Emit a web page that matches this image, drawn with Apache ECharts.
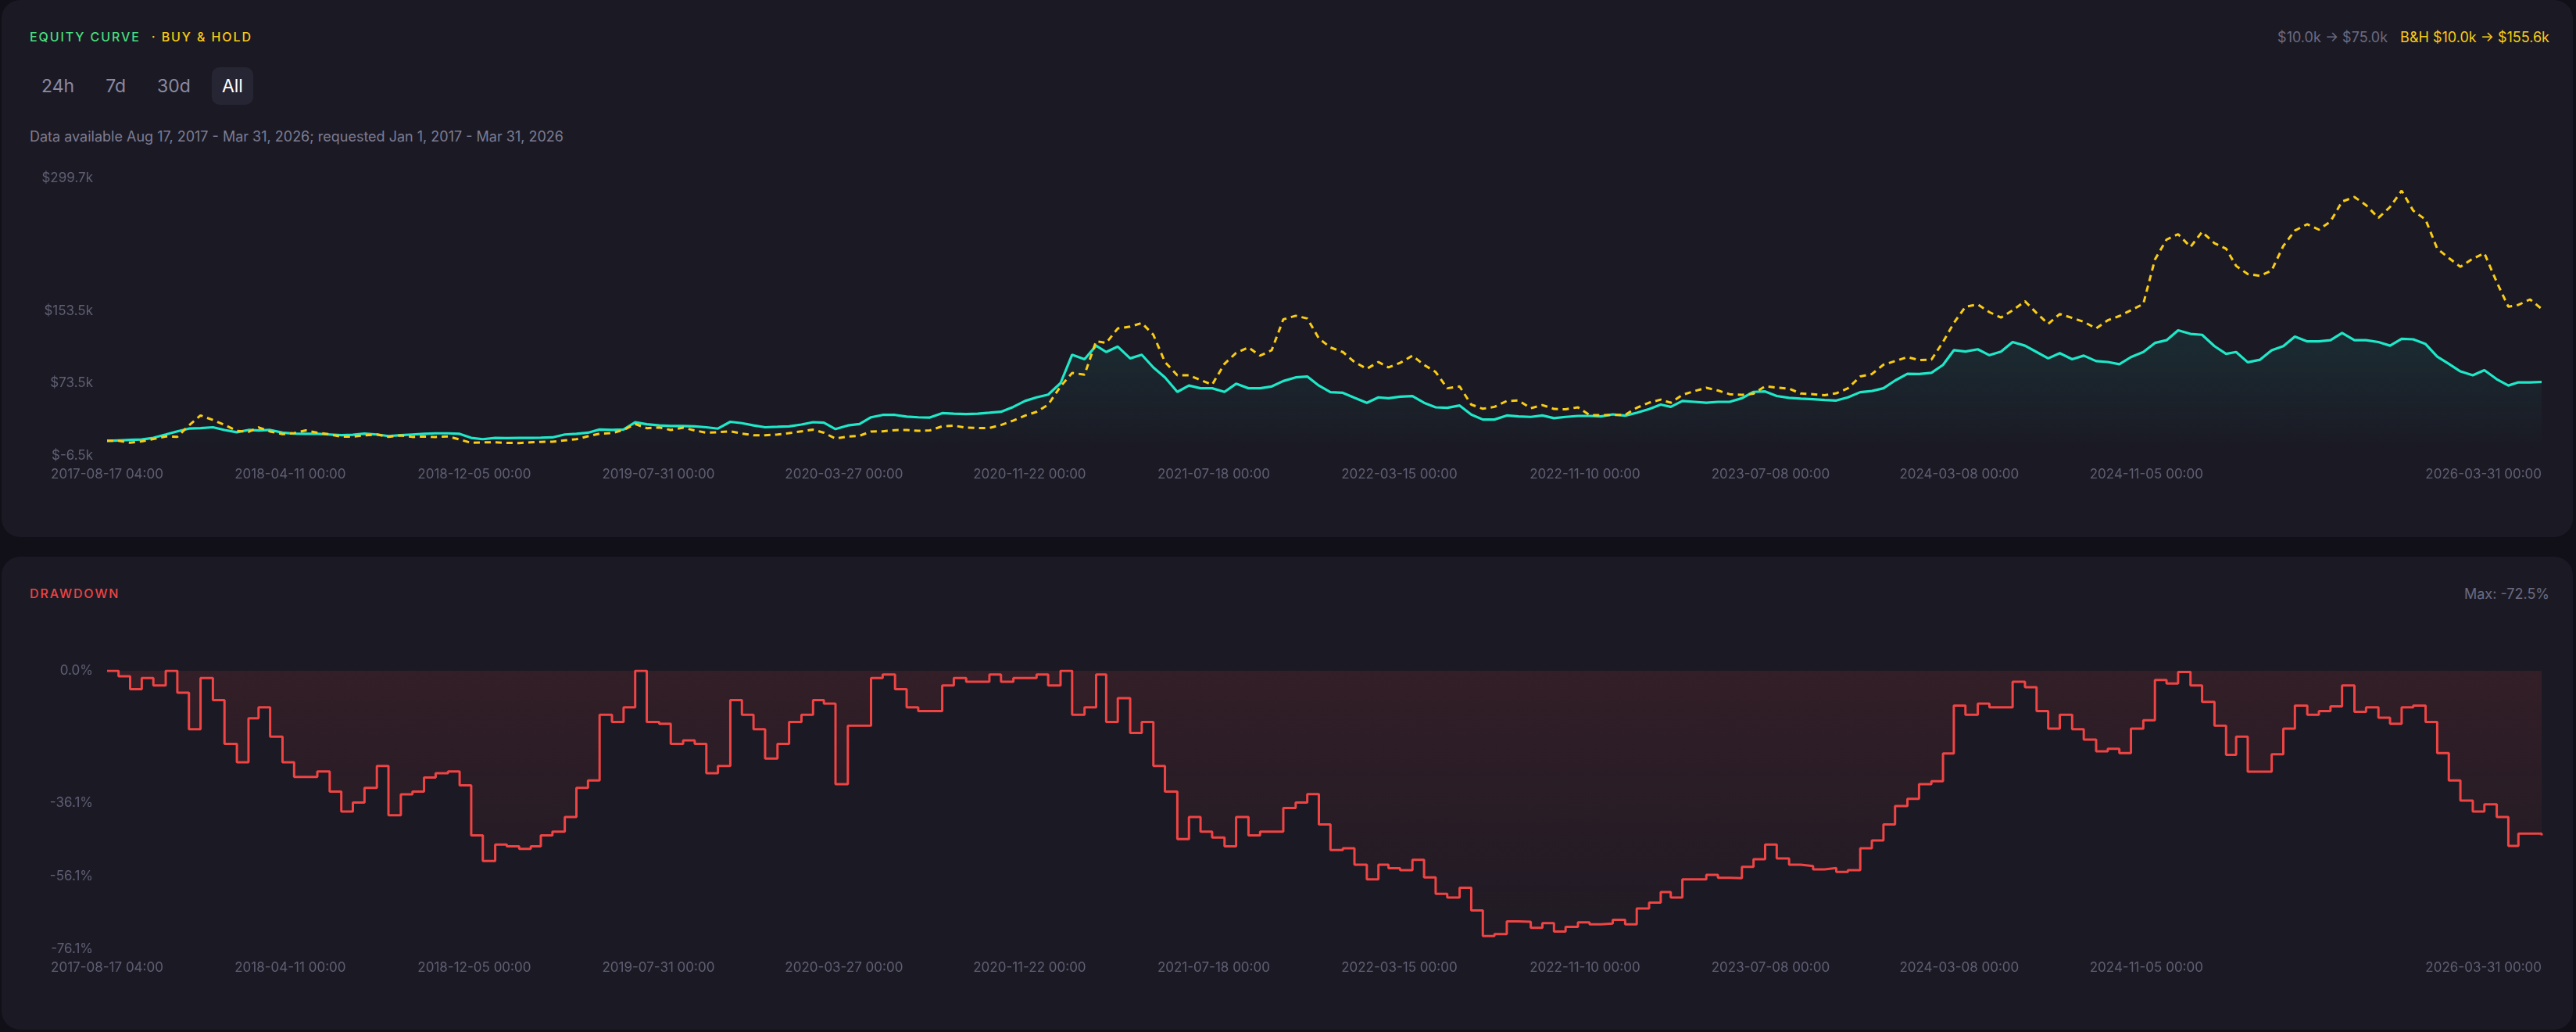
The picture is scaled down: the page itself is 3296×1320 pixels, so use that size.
<!DOCTYPE html>
<html lang="en">
<head>
<meta charset="UTF-8">
<title>Equity curve</title>
<script src="https://cdn.jsdelivr.net/npm/echarts@6/dist/echarts.min.js"></script>
<style>
  html, body { margin: 0; padding: 0; background: #111018; }
  body { width: 3296px; height: 1320px; position: relative; overflow: hidden;
         font-family: Inter, "Noto Sans", sans-serif; }
  .card { position: absolute; left: 2px; width: 3290px; background: #1b1a24; border-radius: 24px; }
  .tag { position: absolute; left: 36px; font-size: 16px; line-height: 20px; letter-spacing: 1.9px; font-weight: 500; }
  .right { position: absolute; right: 30px; font-size: 18px; line-height: 22px; color: #6b6a82; }
  .btns { position: absolute; left: 38px; top: 86px; display: flex; }
  .btns span { height: 48px; line-height: 48px; padding: 0 13px; margin-right: 14px; font-size: 23px;
               color: #8b8aa3; border-radius: 10px; }
  .btns span.on { background: #262533; color: #ffffff; }
  .sub { position: absolute; left: 36px; top: 164px; font-size: 18px; line-height: 22px; color: #7d7c93; }
  #chart { position: absolute; left: 0; top: 0; width: 3296px; height: 1320px; }
</style>
</head>
<body>
  <div class="card" style="top:0;height:687px;">
    <div class="tag" style="top:37px;"><span style="color:#4ade80">EQUITY CURVE</span><span style="color:#facc15;margin-left:14px">· BUY &amp; HOLD</span></div>
    <div class="right" style="top:37px;"><span>$10.0k → $75.0k</span><span style="color:#facc15;margin-left:16px">B&amp;H $10.0k → $155.6k</span></div>
    <div class="btns"><span>24h</span><span>7d</span><span>30d</span><span class="on">All</span></div>
    <div class="sub">Data available Aug 17, 2017 - Mar 31, 2026; requested Jan 1, 2017 - Mar 31, 2026</div>
  </div>
  <div class="card" style="top:712px;height:605px;">
    <div class="tag" style="top:37px;color:#ef4444">DRAWDOWN</div>
    <div class="right" style="top:37px;">Max: -72.5%</div>
  </div>
  <div id="chart"></div>

<script type="text/javascript">
  // sample dates: start, 1st and 16th of each month, end
  var dates = [
    '2017-08-17 04:00',
    '2017-09-01','2017-09-16','2017-10-01','2017-10-16','2017-11-01','2017-11-16','2017-12-01','2017-12-16',
    '2018-01-01','2018-01-16','2018-02-01','2018-02-16','2018-03-01','2018-03-16','2018-04-01','2018-04-16','2018-05-01','2018-05-16','2018-06-01','2018-06-16',
    '2018-07-01','2018-07-16','2018-08-01','2018-08-16','2018-09-01','2018-09-16','2018-10-01','2018-10-16','2018-11-01','2018-11-16','2018-12-01','2018-12-16',
    '2019-01-01','2019-01-16','2019-02-01','2019-02-16','2019-03-01','2019-03-16','2019-04-01','2019-04-16','2019-05-01','2019-05-16','2019-06-01','2019-06-16',
    '2019-07-01','2019-07-16','2019-08-01','2019-08-16','2019-09-01','2019-09-16','2019-10-01','2019-10-16','2019-11-01','2019-11-16','2019-12-01','2019-12-16',
    '2020-01-01','2020-01-16','2020-02-01','2020-02-16','2020-03-01','2020-03-16','2020-04-01','2020-04-16','2020-05-01','2020-05-16','2020-06-01','2020-06-16',
    '2020-07-01','2020-07-16','2020-08-01','2020-08-16','2020-09-01','2020-09-16','2020-10-01','2020-10-16','2020-11-01','2020-11-16','2020-12-01','2020-12-16',
    '2021-01-01','2021-01-16','2021-02-01','2021-02-16','2021-03-01','2021-03-16','2021-04-01','2021-04-16','2021-05-01','2021-05-16','2021-06-01','2021-06-16',
    '2021-07-01','2021-07-16','2021-08-01','2021-08-16','2021-09-01','2021-09-16','2021-10-01','2021-10-16','2021-11-01','2021-11-16','2021-12-01','2021-12-16',
    '2022-01-01','2022-01-16','2022-02-01','2022-02-16','2022-03-01','2022-03-16','2022-04-01','2022-04-16','2022-05-01','2022-05-16','2022-06-01','2022-06-16',
    '2022-07-01','2022-07-16','2022-08-01','2022-08-16','2022-09-01','2022-09-16','2022-10-01','2022-10-16','2022-11-01','2022-11-16','2022-12-01','2022-12-16',
    '2023-01-01','2023-01-16','2023-02-01','2023-02-16','2023-03-01','2023-03-16','2023-04-01','2023-04-16','2023-05-01','2023-05-16','2023-06-01','2023-06-16',
    '2023-07-01','2023-07-16','2023-08-01','2023-08-16','2023-09-01','2023-09-16','2023-10-01','2023-10-16','2023-11-01','2023-11-16','2023-12-01','2023-12-16',
    '2024-01-01','2024-01-16','2024-02-01','2024-02-16','2024-03-01','2024-03-16','2024-04-01','2024-04-16','2024-05-01','2024-05-16','2024-06-01','2024-06-16',
    '2024-07-01','2024-07-16','2024-08-01','2024-08-16','2024-09-01','2024-09-16','2024-10-01','2024-10-16','2024-11-01','2024-11-16','2024-12-01','2024-12-16',
    '2025-01-01','2025-01-16','2025-02-01','2025-02-16','2025-03-01','2025-03-16','2025-04-01','2025-04-16','2025-05-01','2025-05-16','2025-06-01','2025-06-16',
    '2025-07-01','2025-07-16','2025-08-01','2025-08-16','2025-09-01','2025-09-16','2025-10-01','2025-10-16','2025-11-01','2025-11-16','2025-12-01','2025-12-16',
    '2026-01-01','2026-01-16','2026-02-01','2026-02-16','2026-03-01','2026-03-16',
    '2026-03-31 00:00'
  ];

  // strategy equity, $k
  var equityK = [
    10.0,
    10.5, 11.0, 11.5, 13.3, 17, 20.5, 23.5, 24,
    25, 22, 19.5, 22, 21.5, 22, 19, 18, 17.7, 17.7, 17, 16.2, 16.7, 18, 17, 15.3, 16.2, 17, 17.8, 18.3, 18.3, 17.7, 13.3, 11.8,
    13.3, 13, 13.3, 13.3, 13.5, 13.8, 17, 17.7, 19, 22.5, 22, 22.5, 30.5, 28.3, 27, 26.4, 26.4, 26, 25, 23.5, 31, 29.5, 27, 25,
    25.5, 26, 28, 30.6, 30, 23, 27, 28.5, 36, 38.6, 38.6, 36.8, 36, 35.7, 40.6, 40, 39.5, 40, 41, 42.1, 47.5, 54, 58, 61,
    73.7, 105, 100, 115, 108, 114, 101, 105, 91, 80, 64, 71, 68, 68, 64, 73, 68, 68, 70, 76, 80, 81, 71, 63.7,
    63, 57.5, 52, 58, 57, 58.7, 59.3, 52, 47, 46.4, 49, 39, 33.5, 33.5, 38, 37, 36.4, 38, 35, 36.4, 37.5, 37.5, 37, 39.2,
    37.8, 41, 45, 50, 47.5, 54, 53, 52, 53, 53, 57, 64, 64.5, 59.5, 57.5, 56.5, 56, 55, 54.5, 58, 63.7, 65, 68, 76.5,
    84, 83.8, 85, 93.8, 110, 108.5, 111, 104.5, 108.5, 119, 115, 108, 101, 106.7, 100, 104, 98, 97, 94.5, 102.4, 108, 118, 121, 132,
    128, 127, 114.5, 106, 108, 96.7, 99.5, 110, 114.5, 125, 119.7, 119.7, 121, 129, 121, 121, 119, 115, 122.6, 122, 116.8, 103, 95, 86.6,
    82.3, 88, 78, 71, 74.5, 74.5,
    75.0
  ];

  // buy & hold, $k
  var buyHoldK = [
    10.0,
    10, 8, 9.5, 12, 14.8, 14.5, 27, 38,
    33, 27.7, 21, 20, 24.8, 20.3, 17.5, 18.5, 21.5, 19, 17.2, 14.5, 14.7, 16, 17, 14.3, 16, 14.3, 14.8, 14.3, 14.8, 11.5, 7.8, 8.4,
    8.5, 7.7, 7.6, 8.3, 8.9, 9, 10.5, 11.8, 15, 18, 18.5, 22, 28.5, 24, 24.8, 22, 24.5, 21.5, 19, 19.5, 20.5, 18, 16.2, 16.2,
    17, 18.5, 20.5, 22.3, 19, 12.5, 14.7, 15.6, 20.3, 20.5, 21.8, 22, 21, 21.5, 26, 26.8, 24.5, 24.2, 24.2, 27.5, 32.5, 37.8, 42, 50,
    70, 85, 83, 120, 118, 134, 136, 140, 127, 97, 82.3, 82.3, 77, 72, 95, 107, 113, 104, 110, 144, 148, 145, 123, 113,
    108, 97, 89.5, 97, 91, 96, 104, 93.8, 86, 68, 70, 50, 45.4, 47.5, 54, 54.5, 46, 49.5, 45.2, 44.8, 47, 38.5, 38.2, 38.6,
    38.6, 46.5, 52.1, 55.5, 52, 60.8, 65, 68.6, 65.5, 61.5, 60.8, 62, 70.2, 68.8, 67.6, 62.2, 61.5, 60.3, 62.5, 68, 81, 83.7, 94, 98,
    102.5, 99, 99.6, 119, 140, 158, 160.5, 152, 146, 154, 164, 151, 139, 150, 145.6, 141.3, 134, 143, 147.7, 154, 161, 210, 232, 238,
    224, 240.5, 228, 222, 203, 194, 192, 198, 225, 242, 249, 243, 252, 274, 279, 270, 256, 268, 286, 264, 254, 222, 211.7, 202,
    211, 217, 185, 158, 160, 166,
    155.6
  ];

  // drawdown, %
  var drawdownPct = [
    0,
    -1.5, -5, -2, -4, 0, -6, -16, -2,
    -8, -20, -25, -13, -10, -18, -25, -29, -29, -27.5, -33, -38.5, -36, -32, -26, -39.5, -33.8, -33, -29.2, -28, -27.5, -31.3, -45, -52,
    -47.5, -48, -48.7, -48, -45, -44, -40, -32, -30, -12, -14, -10, 0, -14, -14.5, -20, -19, -20, -28, -26, -8, -12, -16, -24,
    -20, -14, -12, -8, -9, -31, -15, -15, -2, -1, -5, -10, -11, -11, -4, -2, -3, -3, -1, -3, -2, -2, -1, -4,
    0, -12, -10, -1, -14, -7.5, -17, -14, -26, -33, -46, -40, -44, -45.6, -48, -40, -45, -44, -44, -37.5, -36, -33.7, -42, -49,
    -48.5, -53, -57, -53, -54, -54.5, -51.7, -56.5, -61, -62, -59.3, -65.5, -72.5, -72, -68.5, -68.6, -70.3, -69, -71.3, -70, -68.8, -69.3, -69.1, -68.1,
    -69.3, -65, -63.4, -60.5, -62, -57, -57, -55.8, -56.6, -56.7, -53.6, -51.5, -47.5, -51.3, -53, -53.4, -54.3, -53.9, -55, -54.5, -48.5, -46.4, -42, -37,
    -35, -31, -30.2, -22.6, -9.5, -12, -9, -10, -10, -3, -4.5, -11, -15.8, -12, -16, -18.8, -22, -21.3, -22.5, -15.8, -13.5, -2.5, -3.5, -0.3,
    -4, -8.5, -15, -23, -18, -27.6, -27.6, -22.8, -15.8, -9.5, -12, -11, -9.7, -4, -11.2, -10, -12.8, -14.5, -10, -9.5, -14, -22.5, -30, -35.5,
    -38.5, -36.5, -40, -47.9, -44.5, -44.5,
    -45
  ];

  var xTickLabels = [
    '2017-08-17 04:00', '2018-04-11 00:00', '2018-12-05 00:00', '2019-07-31 00:00',
    '2020-03-27 00:00', '2020-11-22 00:00', '2021-07-18 00:00', '2022-03-15 00:00',
    '2022-11-10 00:00', '2023-07-08 00:00', '2024-03-08 00:00', '2024-11-05 00:00',
    '2026-03-31 00:00'
  ];
  var equityTicks = [-6.5, 73.5, 153.5, 299.7];
  var drawdownTicks = [0, -36.1, -56.1, -76.1];

  function ts(s) { return echarts.time.parse(s).getTime(); }

  var labelColor = '#5f5e74';
  var tickTimes = xTickLabels.map(ts);

  // value axis carrying timestamps, so the label positions can be given exactly
  function xAxisFor(idx) {
    return {
      type: 'value', gridIndex: idx,
      min: ts(dates[0]), max: ts(dates[dates.length - 1]),
      axisLine: { show: false }, axisTick: { show: false }, splitLine: { show: false },
      axisLabel: {
        customValues: tickTimes,
        formatter: function (v) { return echarts.time.format(v, '{yyyy}-{MM}-{dd} {HH}:{mm}', false); },
        color: labelColor, fontSize: 17, fontFamily: 'Inter', margin: 15,
        showMinLabel: true, showMaxLabel: true, alignMaxLabel: 'right'
      }
    };
  }

  function pairs(arr) { return dates.map(function (d, i) { return [ts(d), arr[i]]; }); }

  var myChart = echarts.init(document.getElementById('chart'), null, { renderer: 'canvas' });

  var option = {
    animation: false,
    backgroundColor: 'transparent',
    grid: [
      { left: 137, right: 44, top: 228, height: 355 },
      { left: 137, right: 44, top: 858, height: 356 }
    ],
    xAxis: [xAxisFor(0), xAxisFor(1)],
    yAxis: [
      {
        type: 'value', gridIndex: 0, min: -6.5, max: 299.7,
        axisLine: { show: false }, axisTick: { show: false }, splitLine: { show: false },
        axisLabel: {
          customValues: equityTicks,
          formatter: function (v) { return '$' + v.toFixed(1) + 'k'; },
          color: labelColor, fontSize: 17, fontFamily: 'Inter', margin: 18
        }
      },
      {
        type: 'value', gridIndex: 1, min: -76.1, max: 0,
        axisLine: { show: false }, axisTick: { show: false }, splitLine: { show: false },
        axisLabel: {
          customValues: drawdownTicks,
          formatter: function (v) { return v.toFixed(1) + '%'; },
          color: labelColor, fontSize: 17, fontFamily: 'Inter', margin: 18
        }
      }
    ],
    series: [
      {
        name: 'Equity', type: 'line', xAxisIndex: 0, yAxisIndex: 0,
        data: pairs(equityK), showSymbol: false, symbol: 'none',
        lineStyle: { color: '#1fe8c8', width: 3.2 },
        areaStyle: {
          color: { type: 'linear', x: 0, y: 0, x2: 0, y2: 1,
                   colorStops: [{ offset: 0, color: 'rgba(31,232,200,0.13)' }, { offset: 1, color: 'rgba(31,232,200,0)' }] }
        },
        z: 2
      },
      {
        name: 'Buy & Hold', type: 'line', xAxisIndex: 0, yAxisIndex: 0,
        data: pairs(buyHoldK), showSymbol: false, symbol: 'none',
        lineStyle: { color: '#facc15', width: 3, type: [8, 6] },
        z: 3
      },
      {
        name: 'Drawdown', type: 'line', xAxisIndex: 1, yAxisIndex: 1, step: 'end',
        data: pairs(drawdownPct), showSymbol: false, symbol: 'none',
        lineStyle: { color: '#ef4444', width: 3 },
        areaStyle: {
          color: { type: 'linear', x: 0, y: 0, x2: 0, y2: 1,
                   colorStops: [{ offset: 0, color: 'rgba(239,68,68,0.16)' }, { offset: 1, color: 'rgba(239,68,68,0.03)' }] }
        }
      }
    ]
  };

  myChart.setOption(option);
</script>
</body>
</html>
